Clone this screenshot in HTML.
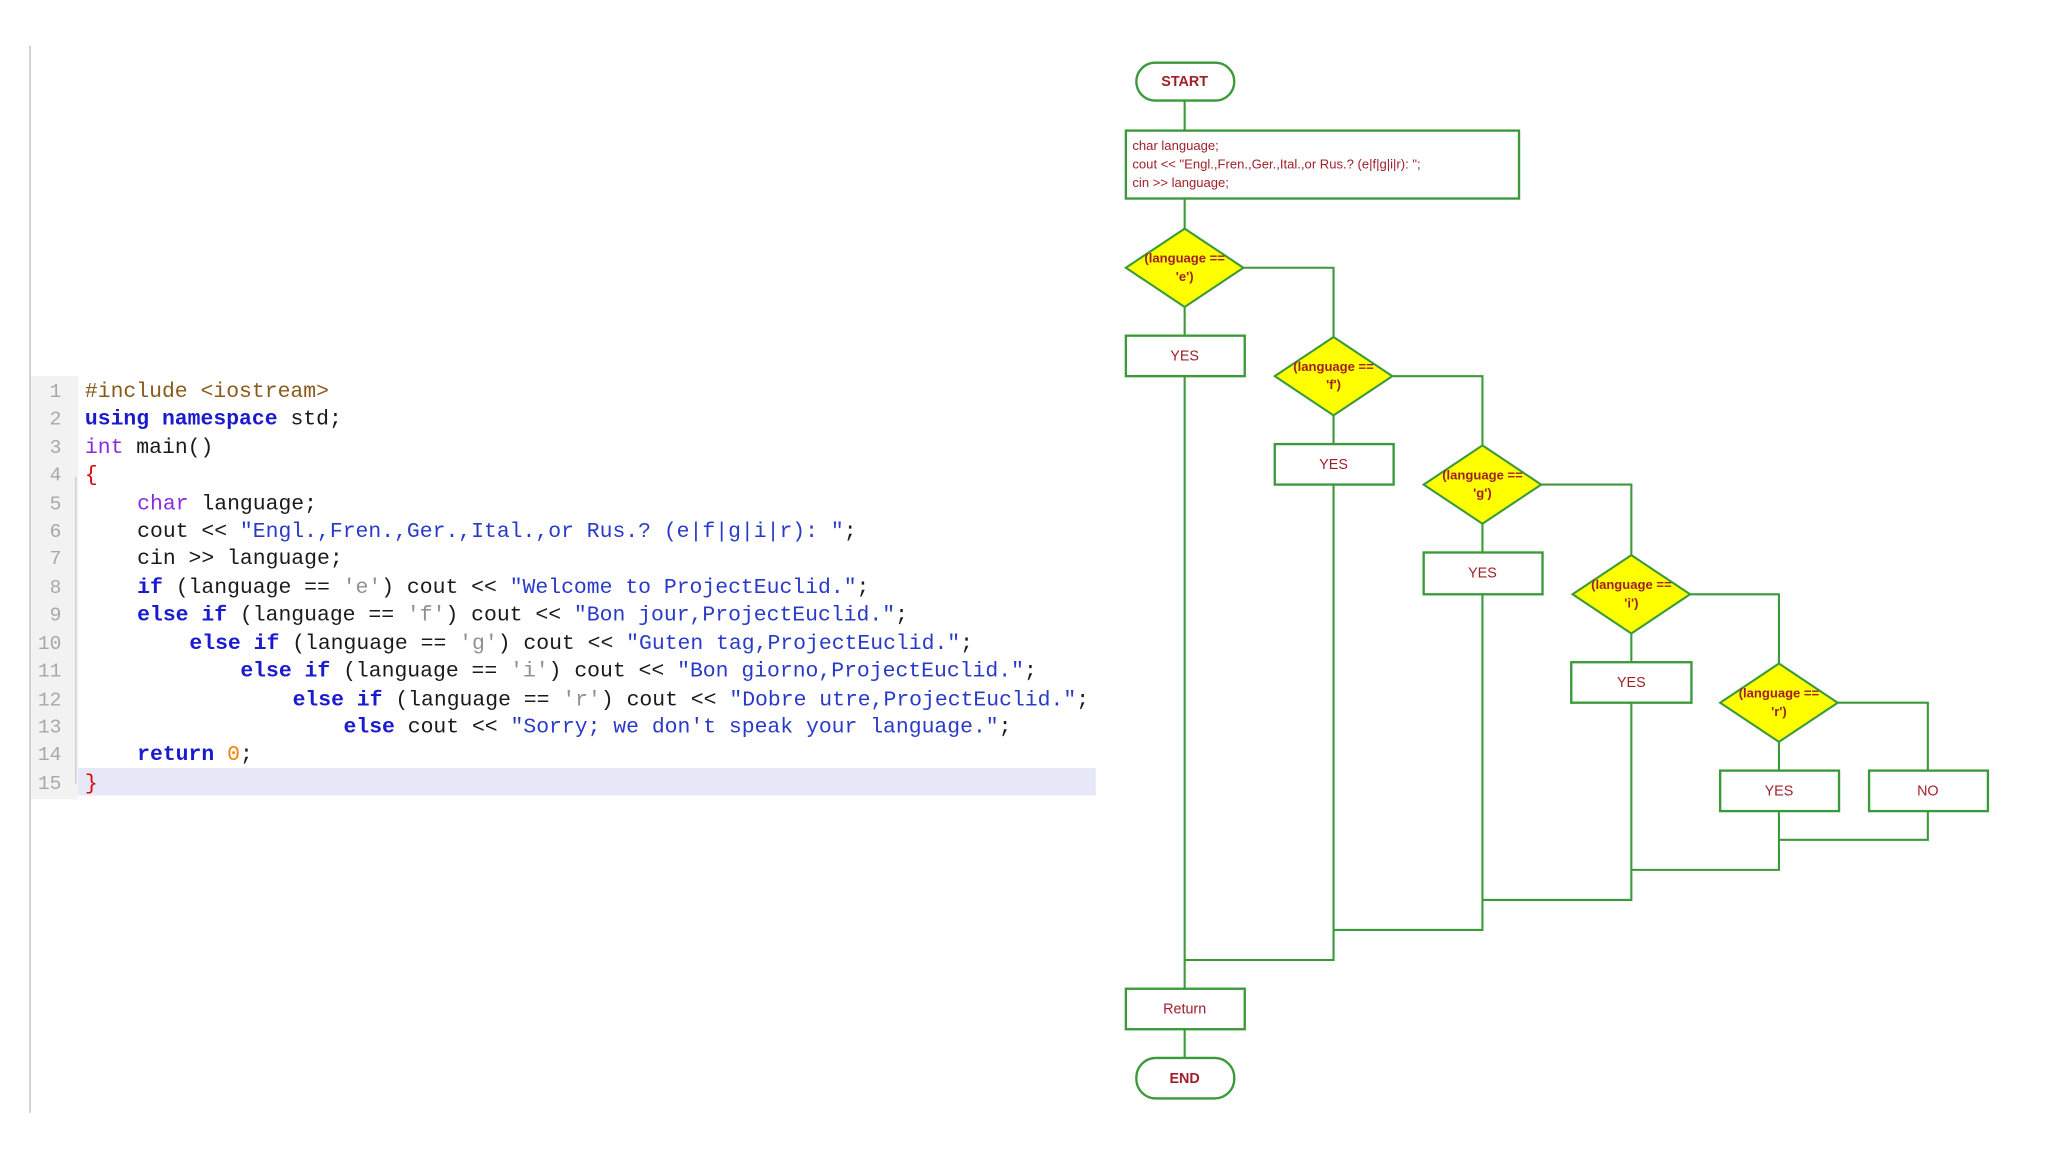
<!DOCTYPE html>
<html><head><meta charset="utf-8"><style>
html,body{margin:0;padding:0;background:#fff;}
svg{display:block;}
.c{font-family:"Liberation Mono",monospace;font-size:16.4px;}
.ln{font-family:"Liberation Mono",monospace;font-size:15px;fill:#a8a8a8;text-anchor:end;}
.kw{fill:#1a1ad0;font-weight:bold;}
.ty{fill:#8a2be2;}
.st{fill:#2a3ac8;}
.ch{fill:#909090;}
.pp{fill:#8a5a1a;}
.tx{fill:#1a1a1a;}
.fc{font-family:"Liberation Sans",sans-serif;fill:#a0202a;}
.g{stroke:#3a9a3a;stroke-width:1.6;fill:none;}
.b{stroke:#3a9a3a;stroke-width:1.8;fill:#fff;}
.d{stroke:#3a9a3a;stroke-width:1.6;fill:#ffff00;}
</style></head><body>
<svg width="2048" height="1152" viewBox="0 0 1568 882" xmlns="http://www.w3.org/2000/svg">
<rect width="1568" height="882" fill="#fff"/>
<line x1="23" y1="35" x2="23" y2="852" stroke="#bbb" stroke-width="1"/>
<rect x="24" y="288" width="36" height="324" fill="#f2f2f2"/>
<rect x="60" y="588" width="779" height="21" fill="#e6e8f8"/>
<line x1="58" y1="365" x2="58" y2="600" stroke="#ccc" stroke-width="1"/>
<g class="ln">
<text x="47" y="304">1</text><text x="47" y="325">2</text><text x="47" y="347">3</text><text x="47" y="368">4</text>
<text x="47" y="390">5</text><text x="47" y="411">6</text><text x="47" y="432">7</text><text x="47" y="454">8</text>
<text x="47" y="475">9</text><text x="47" y="497">10</text><text x="47" y="518">11</text><text x="47" y="540">12</text>
<text x="47" y="561">13</text><text x="47" y="582">14</text><text x="47" y="604">15</text>
</g>
<g class="c" xml:space="preserve">
<text x="65" y="304"><tspan class="pp">#include &lt;iostream&gt;</tspan></text>
<text x="65" y="325"><tspan class="kw">using namespace</tspan><tspan class="tx"> std;</tspan></text>
<text x="65" y="347"><tspan class="ty">int</tspan><tspan class="tx"> main()</tspan></text>
<text x="65" y="368" fill="#e00000">{</text>
<text x="105" y="390"><tspan class="ty">char</tspan><tspan class="tx"> language;</tspan></text>
<text x="105" y="411"><tspan class="tx">cout &lt;&lt; </tspan><tspan class="st">"Engl.,Fren.,Ger.,Ital.,or Rus.? (e|f|g|i|r): "</tspan><tspan class="tx">;</tspan></text>
<text x="105" y="432"><tspan class="tx">cin &gt;&gt; language;</tspan></text>
<text x="105" y="454"><tspan class="kw">if</tspan><tspan class="tx"> (language == </tspan><tspan class="ch">'e'</tspan><tspan class="tx">) cout &lt;&lt; </tspan><tspan class="st">"Welcome to ProjectEuclid."</tspan><tspan class="tx">;</tspan></text>
<text x="105" y="475"><tspan class="kw">else if</tspan><tspan class="tx"> (language == </tspan><tspan class="ch">'f'</tspan><tspan class="tx">) cout &lt;&lt; </tspan><tspan class="st">"Bon jour,ProjectEuclid."</tspan><tspan class="tx">;</tspan></text>
<text x="145" y="497"><tspan class="kw">else if</tspan><tspan class="tx"> (language == </tspan><tspan class="ch">'g'</tspan><tspan class="tx">) cout &lt;&lt; </tspan><tspan class="st">"Guten tag,ProjectEuclid."</tspan><tspan class="tx">;</tspan></text>
<text x="184" y="518"><tspan class="kw">else if</tspan><tspan class="tx"> (language == </tspan><tspan class="ch">'i'</tspan><tspan class="tx">) cout &lt;&lt; </tspan><tspan class="st">"Bon giorno,ProjectEuclid."</tspan><tspan class="tx">;</tspan></text>
<text x="224" y="540"><tspan class="kw">else if</tspan><tspan class="tx"> (language == </tspan><tspan class="ch">'r'</tspan><tspan class="tx">) cout &lt;&lt; </tspan><tspan class="st">"Dobre utre,ProjectEuclid."</tspan><tspan class="tx">;</tspan></text>
<text x="263" y="561"><tspan class="kw">else</tspan><tspan class="tx"> cout &lt;&lt; </tspan><tspan class="st">"Sorry; we don't speak your language."</tspan><tspan class="tx">;</tspan></text>
<text x="105" y="582"><tspan class="kw">return</tspan><tspan class="tx"> </tspan><tspan fill="#ff8000">0</tspan><tspan class="tx">;</tspan></text>
<text x="65" y="604" fill="#e00000">}</text>
</g>

<!-- connectors -->
<g class="g">
<line x1="907" y1="77" x2="907" y2="100"/>
<line x1="907" y1="152" x2="907" y2="175"/>
<line x1="907" y1="235" x2="907" y2="257"/>
<line x1="907" y1="288" x2="907" y2="757"/>
<line x1="907" y1="788" x2="907" y2="810"/>
<polyline points="952,205 1021,205 1021,258"/>
<line x1="1021" y1="318" x2="1021" y2="340"/>
<polyline points="1066,288 1135,288 1135,341"/>
<line x1="1135" y1="401" x2="1135" y2="423"/>
<polyline points="1180,371 1249,371 1249,425"/>
<line x1="1249" y1="485" x2="1249" y2="507"/>
<polyline points="1294,455 1362,455 1362,508"/>
<line x1="1362" y1="568" x2="1362" y2="590"/>
<polyline points="1407,538 1476,538 1476,590"/>
<polyline points="1476,621 1476,643 1362,643"/>
<polyline points="1362,621 1362,666 1249,666"/>
<polyline points="1249,538 1249,689 1135,689"/>
<polyline points="1135,455 1135,712 1021,712"/>
<polyline points="1021,371 1021,735 907,735"/>
</g>

<!-- nodes -->
<rect class="b" x="870" y="48" width="75" height="29" rx="14.5"/>
<text class="fc" x="907" y="66" font-size="11" font-weight="bold" text-anchor="middle">START</text>

<rect class="b" x="862" y="100" width="301" height="52"/>
<g class="fc" font-size="10">
<text x="867" y="115">char language;</text>
<text x="867" y="129">cout &lt;&lt; "Engl.,Fren.,Ger.,Ital.,or Rus.? (e|f|g|i|r): ";</text>
<text x="867" y="143">cin &gt;&gt; language;</text>
</g>

<g font-size="10" font-weight="bold" text-anchor="middle">
<polygon class="d" points="907,175 952,205 907,235 862,205"/>
<text class="fc" x="907" y="201" fill="#8a1a10">(language ==</text><text class="fc" x="907" y="215">'e')</text>
<polygon class="d" points="1021,258 1066,288 1021,318 976,288"/>
<text class="fc" x="1021" y="284">(language ==</text><text class="fc" x="1021" y="298">'f')</text>
<polygon class="d" points="1135,341 1180,371 1135,401 1090,371"/>
<text class="fc" x="1135" y="367">(language ==</text><text class="fc" x="1135" y="381">'g')</text>
<polygon class="d" points="1249,425 1294,455 1249,485 1204,455"/>
<text class="fc" x="1249" y="451">(language ==</text><text class="fc" x="1249" y="465">'i')</text>
<polygon class="d" points="1362,508 1407,538 1362,568 1317,538"/>
<text class="fc" x="1362" y="534">(language ==</text><text class="fc" x="1362" y="548">'r')</text>
</g>

<g font-size="11" text-anchor="middle">
<rect class="b" x="862" y="257" width="91" height="31"/><text class="fc" x="907" y="276">YES</text>
<rect class="b" x="976" y="340" width="91" height="31"/><text class="fc" x="1021" y="359">YES</text>
<rect class="b" x="1090" y="423" width="91" height="32"/><text class="fc" x="1135" y="442">YES</text>
<rect class="b" x="1203" y="507" width="92" height="31"/><text class="fc" x="1249" y="526">YES</text>
<rect class="b" x="1317" y="590" width="91" height="31"/><text class="fc" x="1362" y="609">YES</text>
<rect class="b" x="1431" y="590" width="91" height="31"/><text class="fc" x="1476" y="609">NO</text>
<rect class="b" x="862" y="757" width="91" height="31"/><text class="fc" x="907" y="776">Return</text>
</g>
<rect class="b" x="870" y="810" width="75" height="31" rx="15"/>
<text class="fc" x="907" y="829" font-size="11" font-weight="bold" text-anchor="middle">END</text>
</svg>
</body></html>
